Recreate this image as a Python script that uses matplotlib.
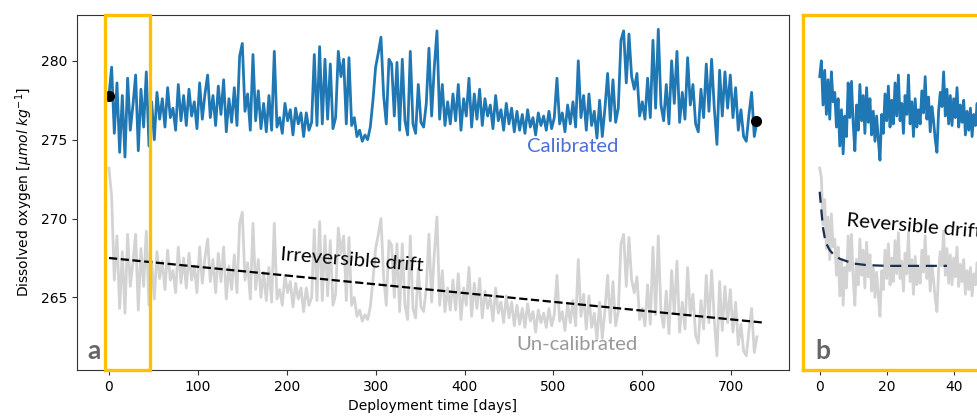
import numpy as np
import matplotlib
matplotlib.use("Agg")
import matplotlib.pyplot as plt
from matplotlib.patches import Rectangle
import matplotlib.transforms as mtransforms

# full deployment, one sample every 3 days
step_days = 3
calibrated = [
    277.8, 279.6, 275.4, 278.6, 274.2, 277.8, 273.9, 278.9, 275.6, 277.2,
    279.1, 274.3, 278.2, 275.8, 279.3, 274.6, 277.4, 275.0, 278.0, 276.3,
    277.6, 275.8, 278.3, 276.4, 277.0, 275.6, 278.5, 276.2, 277.8, 275.9,
    278.2, 276.5, 277.4, 275.7, 278.6, 276.3, 277.9, 279.1, 276.4, 277.8,
    275.9, 278.4, 276.6, 278.8, 275.5, 277.6, 276.1, 278.3, 275.9, 280.3,
    281.1, 276.8, 277.9, 275.6, 280.4, 276.2, 278.1, 275.7, 277.3, 275.5,
    277.8, 275.6, 280.6, 275.8, 276.4, 275.4, 277.3, 276.2, 276.9, 275.3,
    277.0, 276.0, 276.7, 275.2, 276.7, 275.6, 276.1, 280.4, 275.9, 280.9,
    276.0, 280.1, 276.3, 279.8, 275.7, 276.4, 280.6, 279.0, 280.1, 276.0,
    280.2, 275.9, 276.4, 275.2, 275.6, 274.9, 275.3, 275.0, 275.8, 277.5,
    279.6, 280.5, 281.5, 277.8, 276.0, 280.1, 279.8, 276.5, 279.9, 275.6,
    280.1, 276.2, 275.3, 280.6, 276.0, 275.4, 278.5, 276.1, 275.8, 277.3,
    280.8, 276.5, 279.6, 281.9, 276.3, 278.5, 275.9, 277.4, 276.0, 277.9,
    276.2, 278.5, 275.6, 277.6, 276.5, 278.9, 275.8, 277.9, 276.3, 278.2,
    275.9, 277.6, 276.5, 277.2, 275.7, 277.8, 276.2, 276.9, 275.6, 277.3,
    276.0, 277.0, 275.5, 276.8, 275.6, 276.6, 275.4, 276.9, 275.8, 276.4,
    275.3, 276.7, 275.9, 276.5, 275.6, 276.8, 275.7, 276.4, 278.9, 276.0,
    276.7, 275.5, 277.2, 276.0, 277.4, 275.8, 280.0, 276.4, 277.8, 275.6,
    277.9, 275.9, 276.8, 275.1, 277.5, 275.2, 277.0, 279.2, 276.2, 278.8,
    276.1, 277.0, 281.3, 281.9, 278.6, 281.7, 279.0, 278.2, 279.2, 276.5,
    277.4, 276.3, 278.9, 276.4, 281.3, 277.0, 282.0, 277.2, 276.2, 278.5,
    276.0, 280.0, 277.3, 280.6, 276.1, 278.0, 276.3, 280.2, 277.2, 278.5,
    276.0, 275.5, 278.2, 276.4, 279.8, 276.8, 280.1, 277.0, 274.7, 279.4,
    276.5, 279.3, 277.0, 279.1, 276.4, 278.3, 275.6, 276.9, 275.2, 274.9,
    276.6, 278.0, 275.2, 276.2,
]
uncalibrated = [
    273.2, 271.4, 266.1, 268.9, 264.3, 267.9, 264.0, 269.0, 265.7, 267.3,
    269.0, 264.2, 268.1, 265.7, 269.2, 264.5, 267.3, 264.9, 267.9, 266.2,
    267.3, 265.5, 268.0, 266.1, 266.7, 265.3, 268.2, 265.9, 267.5, 265.6,
    267.8, 266.1, 267.0, 265.3, 268.2, 265.9, 267.5, 268.7, 266.0, 267.4,
    265.3, 267.8, 266.0, 268.2, 264.9, 267.0, 265.5, 267.7, 265.3, 269.7,
    270.4, 266.1, 267.2, 264.9, 269.7, 265.5, 267.4, 265.0, 266.6, 264.8,
    266.9, 264.7, 269.7, 264.9, 265.5, 264.5, 266.4, 265.3, 266.0, 264.4,
    265.9, 264.9, 265.6, 264.1, 265.6, 264.5, 265.0, 269.3, 264.8, 269.8,
    264.8, 268.9, 265.1, 268.6, 264.5, 265.2, 269.4, 267.8, 268.9, 264.8,
    268.8, 264.5, 265.0, 263.8, 264.2, 263.5, 263.9, 263.6, 264.4, 266.1,
    268.1, 269.0, 270.0, 266.3, 264.5, 268.6, 268.3, 265.0, 268.4, 264.1,
    268.4, 264.5, 263.6, 268.9, 264.3, 263.7, 266.8, 264.4, 264.1, 265.6,
    269.0, 264.7, 267.8, 270.1, 264.5, 266.7, 264.1, 265.6, 264.2, 266.1,
    264.2, 266.5, 263.6, 265.6, 264.5, 266.9, 263.8, 265.9, 264.3, 266.2,
    263.7, 265.4, 264.3, 265.0, 263.5, 265.6, 264.0, 264.7, 263.4, 265.1,
    263.7, 264.7, 263.2, 264.5, 263.3, 264.3, 263.1, 264.6, 263.5, 264.1,
    262.8, 264.2, 263.4, 264.0, 263.1, 264.3, 263.2, 263.9, 266.4, 263.5,
    264.1, 262.9, 264.6, 263.4, 264.8, 263.2, 267.4, 263.8, 265.2, 263.0,
    265.1, 263.1, 264.0, 262.3, 264.7, 262.4, 264.2, 266.4, 263.4, 266.0,
    263.2, 264.1, 268.4, 269.0, 265.7, 268.8, 266.1, 265.3, 266.3, 263.6,
    264.3, 263.2, 265.8, 263.3, 268.2, 263.9, 268.9, 264.1, 263.1, 265.4,
    262.7, 266.7, 264.0, 267.3, 262.8, 264.7, 263.0, 266.9, 263.9, 265.2,
    262.6, 262.1, 264.8, 263.0, 266.4, 263.4, 266.7, 263.6, 261.3, 266.0,
    262.9, 265.7, 263.4, 265.5, 262.8, 264.7, 262.0, 263.3, 261.6, 261.3,
    262.9, 264.3, 261.5, 262.5,
]

# first weeks, one sample every half day
zoom_step = 0.5
calibrated_zoom = [
    279.0, 280.0, 277.2, 279.4, 276.6, 278.8, 276.3, 279.3, 277.4, 278.0,
    275.8, 277.6, 274.6, 276.9, 274.1, 276.5, 275.2, 278.6, 276.4, 278.7,
    276.0, 274.3, 277.2, 275.6, 278.5, 276.2, 277.8, 275.4, 278.3, 276.1,
    277.6, 275.3, 276.8, 274.9, 276.5, 275.0, 273.7, 276.6, 275.4, 277.9,
    276.2, 278.4, 275.8, 277.5, 276.0, 278.6, 276.5, 279.1, 276.2, 277.3,
    275.4, 277.8, 276.6, 279.1, 276.0, 277.4, 275.2, 277.6, 275.8, 276.9,
    276.0, 278.1, 276.7, 279.0, 276.3, 277.7, 275.5, 277.1, 276.2, 275.0,
    274.2, 276.8, 278.0, 277.1, 279.3, 276.5, 278.2, 276.0, 277.8, 275.9,
    277.6, 276.4, 278.3, 275.8, 277.2, 276.1, 277.5, 275.3, 276.8, 275.6,
    277.0, 275.2, 276.6, 275.9, 277.3, 275.4, 276.7, 275.5, 277.1, 275.8,
]
uncalibrated_zoom = [
    273.2, 272.6, 269.6, 271.2, 268.1, 270.1, 267.4, 270.3, 268.2, 268.7,
    266.4, 268.2, 265.1, 267.4, 264.5, 266.9, 265.6, 268.9, 266.7, 269.0,
    266.2, 264.5, 267.4, 265.8, 268.7, 266.4, 268.0, 265.6, 268.5, 266.3,
    267.7, 265.4, 266.9, 265.0, 266.6, 265.1, 263.8, 266.7, 265.5, 268.0,
    266.2, 268.4, 265.8, 267.5, 266.0, 268.6, 266.5, 269.1, 266.2, 267.3,
    265.4, 267.8, 266.5, 269.1, 266.0, 267.4, 265.2, 267.6, 265.8, 266.9,
    265.9, 268.0, 266.6, 268.9, 266.2, 267.6, 265.4, 267.0, 266.1, 264.9,
    264.1, 266.7, 267.9, 267.0, 269.2, 266.4, 268.1, 265.9, 267.7, 265.8,
    267.5, 266.3, 268.2, 265.7, 267.1, 266.0, 267.4, 265.2, 266.7, 265.5,
    266.9, 265.1, 266.5, 265.8, 267.2, 265.3, 266.6, 265.4, 267.0, 265.7,
]

# calibration points and drift fits
cal_days = [0, 728]
cal_values = [277.8, 276.2]
irrev_days = [0, 737]
irrev_values = [267.5, 263.4]
rev_days = [0, 0.5, 1, 1.5, 2, 3, 4, 6, 8, 10, 14, 20, 30, 38]
rev_values = [271.7, 270.5, 269.4, 268.8, 268.4, 268.0, 267.75, 267.45,
              267.3, 267.15, 267.05, 267.0, 267.0, 267.0]
zoom_window = [-5, 46.4]

gold = "#FFC000"
blue = "#1f77b4"
grey = "#d3d3d3"
note_font = ["Lato", "DejaVu Sans"]


def main():
    days = np.arange(len(calibrated)) * step_days
    days_zoom = np.arange(len(calibrated_zoom)) * zoom_step

    fig = plt.figure(figsize=(9.78, 4.19), dpi=100)
    ax = fig.add_axes([0.0787, 0.117, 0.728, 0.847])
    axb = fig.add_axes([0.821, 0.117, 0.2055, 0.847], sharey=ax)

    # panel a
    ax.plot(days, uncalibrated, color=grey, lw=2.0)
    ax.plot(days, calibrated, color=blue, lw=2.0)
    ax.plot(irrev_days, irrev_values, "k--", lw=1.6)
    ax.plot(cal_days, cal_values, "o", color="black", ms=7, zorder=5)
    ax.set_xlim(-36, 765)
    ax.set_ylim(260.4, 282.9)
    ax.set_xticks([0, 100, 200, 300, 400, 500, 600, 700])
    ax.set_yticks([265, 270, 275, 280])

    trans = mtransforms.blended_transform_factory(ax.transData, ax.transAxes)
    ax.add_patch(Rectangle((zoom_window[0], 0), zoom_window[1] - zoom_window[0], 1,
                           transform=trans, fill=False, ec=gold, lw=2.4,
                           clip_on=False, zorder=6))

    ax.text(522, 274.6, "Calibrated", color="#4a6fd8", fontsize=14.6,
            family=note_font, ha="center", va="center")
    ax.text(527, 262.0, "Un-calibrated", color="#999999", fontsize=14.6,
            family=note_font, ha="center", va="center")
    ax.text(273, 267.35, "Irreversible drift", color="black", fontsize=14.6,
            family=note_font, ha="center", va="center", rotation=-4.5,
            rotation_mode="anchor")
    ax.text(0.015, 0.03, "a", transform=ax.transAxes, fontsize=19,
            fontweight="bold", color="#666666", family=note_font)

    ax.set_xlabel("Deployment time [days]", fontsize=10)
    ax.set_ylabel(r"Dissolved oxygen [$\mu mol\ kg^{-1}$]", fontsize=10)

    # panel b (cut by the right edge, as in the source figure)
    axb.plot(days_zoom, uncalibrated_zoom, color=grey, lw=2.0)
    axb.plot(days_zoom, calibrated_zoom, color=blue, lw=2.0)
    axb.plot(rev_days, rev_values, "--", color="#1b2f4f", lw=1.6, dashes=(5, 3))
    axb.set_xlim(-5, 55)
    axb.set_xticks([0, 20, 40])
    axb.tick_params(left=False, labelleft=False)
    for sp in axb.spines.values():
        sp.set_color(gold)
        sp.set_linewidth(2.4)
    axb.text(7.8, 269.5, "Reversible drift", color="black", fontsize=14.6,
             family=note_font, ha="left", va="baseline", rotation=-5,
             rotation_mode="anchor")
    axb.text(0.06, 0.03, "b", transform=axb.transAxes, fontsize=19,
             fontweight="bold", color="#666666", family=note_font)

    for a in (ax, axb):
        a.tick_params(labelsize=10, direction="out", length=3.5, color="0.2")
    for sp in ax.spines.values():
        sp.set_color("0.2")

    fig.savefig("out.png", dpi=100)


if __name__ == "__main__":
    main()
